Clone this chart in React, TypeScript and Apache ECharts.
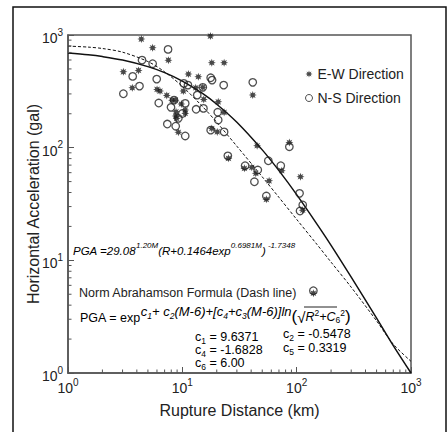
import React, { useEffect, useRef } from "react";
import * as echarts from "echarts";

// ---- data ----
const ewDistance = [4.38, 17.6, 5.5, 7.55, 18.1, 23.2, 3.05, 4.14, 11.3, 13.8, 3.65, 6.01, 6.38, 10.2, 13.1, 15.1, 15.4, 7.31, 8.13, 8.68, 9.8, 8.81, 10.6, 10.6, 8.75, 8.93, 20.6, 23.2, 9.23, 18.1, 20.2, 41.3, 25.3, 45.1, 86.3, 34.9, 40.5, 43.9, 57.4, 74.1, 108, 54.3, 113, 140];
const ewPGA = [920, 978, 770, 598, 567, 567, 471, 485, 450, 426, 340, 329, 318, 318, 340, 343, 268, 291, 264, 264, 244, 208, 216, 201, 191, 182, 255, 206, 137, 148, 138, 293, 80.4, 104, 111, 65.5, 66.9, 59.2, 50.8, 62.4, 55.2, 34.8, 27.9, 5.1];

const nsDistance = [3.05, 3.68, 4.22, 4.44, 5.5, 7.5, 5.97, 6.22, 7.39, 7.96, 8.75, 9.23, 10.0, 10.6, 10.3, 11.2, 10.6, 13.2, 13.5, 15.1, 15.3, 17.7, 18.2, 17.7, 20.4, 20.6, 23.0, 23.2, 25.0, 41.3, 35.4, 42.7, 45.7, 56.5, 72.6, 86.3, 54.3, 106, 113, 107, 140, 8.46];
const nsPGA = [301, 429, 352, 598, 556, 745, 406, 249, 162, 228, 155, 182, 201, 247, 372, 359, 127, 219, 293, 343, 223, 417, 398, 143, 206, 176, 359, 138, 84.6, 380, 69.1, 49.8, 63.3, 76.5, 69.1, 102, 37.2, 39.3, 31.0, 27.4, 5.37, 264];

const curveDistance = [1, 1.5, 2, 3, 5, 7, 10, 15, 20, 30, 50, 70, 100, 150, 200, 300, 500, 700, 1000];
const solidPGA = [692, 667, 643, 599, 524, 463, 390, 303, 243, 168, 95.6, 62.5, 38.3, 21.1, 13.6, 7.1, 3.07, 1.75, 1.0];
const dashedPGA = [797, 781, 759, 704, 581, 471, 350, 232, 168, 103, 55.1, 36.2, 23.1, 13.9, 9.63, 5.77, 2.9, 1.8, 1.27];

const majorTickExponents = [0, 1, 2, 3];
const minorTickValues = [2, 3, 4, 5, 6, 7, 8, 9, 20, 30, 40, 50, 60, 70, 80, 90, 200, 300, 400, 500, 600, 700, 800, 900];

const FONT = "Liberation Sans, Arial, Helvetica, sans-serif";
const INK = "#222";
const AXIS = "#555";
const ASTERISK =
  "path://M20 10 L14.6 11.9 L17.07 17.07 L11.9 14.6 L10 20 L8.1 14.6 L2.93 17.07 L5.4 11.9 L0 10 L5.4 8.1 L2.93 2.93 L8.1 5.4 L10 0 L11.9 5.4 L17.07 2.93 L14.6 8.1 Z";

const tok = (size: number, pad: number, italic = false, lh?: number) => ({
  fontFamily: FONT,
  fontSize: size,
  fontStyle: italic ? "italic" : "normal",
  color: INK,
  verticalAlign: "bottom",
  lineHeight: lh ?? Math.round(size * 1.1),
  padding: [0, 0, pad, 0],
});

const tickLabel = (v: number) => {
  const e = Math.round(Math.log10(v));
  return majorTickExponents.includes(e) ? `{b|10}{s|${e}}` : "";
};
const tickRich = {
  b: { fontFamily: FONT, fontSize: 14, color: INK, verticalAlign: "bottom", lineHeight: 15 },
  s: { fontFamily: FONT, fontSize: 10, color: INK, verticalAlign: "bottom", lineHeight: 11, padding: [0, 0, 8, 0] },
};

const coefLine = (x: number, y: number, sub: string, rest: string) => ({
  type: "text",
  x,
  y,
  style: {
    text: `{n|c}{b|${sub}}{n|${rest}}`,
    verticalAlign: "middle",
    rich: { n: tok(12.5, 2, false, 10), b: tok(8.5, 0, false, 8) },
  },
});

export default function App() {
  const ref = useRef<HTMLDivElement>(null);
  useEffect(() => {
    if (!ref.current) return;
    const chart = echarts.init(ref.current, undefined, { renderer: "svg" });
    const minorX = (params: any, api: any) => {
      const p = api.coord([api.value(0), 1]);
      return { type: "line", shape: { x1: p[0], y1: p[1], x2: p[0], y2: p[1] - 3.5 }, style: { stroke: AXIS, lineWidth: 1 } };
    };
    const minorY = (params: any, api: any) => {
      const p = api.coord([1, api.value(1)]);
      return { type: "line", shape: { x1: p[0], y1: p[1], x2: p[0] + 3.5, y2: p[1] }, style: { stroke: AXIS, lineWidth: 1 } };
    };
    chart.setOption({
      animation: false,
      backgroundColor: "#fff",
      grid: { left: 68, right: 37, top: 35, bottom: 59, show: true, borderColor: AXIS, borderWidth: 1.5, backgroundColor: "transparent" },
      xAxis: {
        type: "log",
        logBase: 10,
        min: 1,
        max: 1000,
        name: "Rupture Distance (km)",
        nameLocation: "middle",
        nameGap: 29,
        nameMoveOverlap: false,
        nameTextStyle: { fontFamily: FONT, fontSize: 16, color: INK },
        axisLine: { lineStyle: { color: AXIS, width: 1.5 } },
        axisTick: { inside: true, length: 6, lineStyle: { color: AXIS, width: 1 } },
        splitLine: { show: false },
        axisLabel: { formatter: tickLabel, rich: tickRich, margin: 7 },
      },
      yAxis: {
        type: "log",
        logBase: 10,
        min: 1,
        max: 1000,
        name: "Horizontal Acceleration (gal)",
        nameLocation: "middle",
        nameGap: 27,
        nameMoveOverlap: false,
        nameTextStyle: { fontFamily: FONT, fontSize: 16, color: INK },
        axisLine: { lineStyle: { color: AXIS, width: 1.5 } },
        axisTick: { inside: true, length: 6, lineStyle: { color: AXIS, width: 1 } },
        splitLine: { show: false },
        axisLabel: { formatter: tickLabel, rich: tickRich, margin: 5, padding: [5, 0, 0, 0] },
      },
      legend: {
        data: [
          { name: "E-W Direction" },
          { name: "N-S Direction", itemStyle: { borderWidth: 1 } },
        ],
        orient: "vertical",
        left: 300,
        top: 62,
        itemWidth: 7,
        itemHeight: 7,
        itemGap: 10,
        textStyle: { fontFamily: FONT, fontSize: 14, color: INK },
      },
      series: [
        {
          name: "Solid",
          type: "line",
          data: curveDistance.map((r, i) => [r, solidPGA[i]]),
          showSymbol: false,
          smooth: 0.3,
          lineStyle: { color: "#111", width: 1.5 },
          silent: true,
          z: 3,
        },
        {
          name: "Dashed",
          type: "line",
          data: curveDistance.map((r, i) => [r, dashedPGA[i]]),
          showSymbol: false,
          smooth: 0.3,
          lineStyle: { color: "#111", width: 1, type: [3, 2] },
          silent: true,
          z: 3,
        },
        {
          name: "E-W Direction",
          type: "scatter",
          symbol: ASTERISK,
          symbolSize: 8,
          itemStyle: { color: "#1a1a1a" },
          data: ewDistance.map((r, i) => [r, ewPGA[i]]),
          z: 4,
        },
        {
          name: "N-S Direction",
          type: "scatter",
          symbol: "circle",
          symbolSize: 7.5,
          itemStyle: { color: "rgba(255,255,255,0)", borderColor: INK, borderWidth: 1.3 },
          data: nsDistance.map((r, i) => [r, nsPGA[i]]),
          z: 5,
        },
        {
          name: "xMinor",
          type: "custom",
          renderItem: minorX,
          data: minorTickValues.map((v) => [v, 1]),
          silent: true,
          z: 6,
        },
        {
          name: "yMinor",
          type: "custom",
          renderItem: minorY,
          data: minorTickValues.map((v) => [1, v]),
          silent: true,
          z: 6,
        },
      ],
      graphic: [
        {
          type: "rect",
          shape: { x: 13, y: 7, width: 433, height: 440 },
          style: { fill: "none", stroke: "#111", lineWidth: 1.5 },
          silent: true,
        },
        {
          type: "text",
          x: 73,
          y: 250,
          style: {
            text: "{i|PGA =29.08}{s|1.20M}{i|(R+0.1464exp}{s|0.6981M}{i|)}{s| -1.7348}",
            verticalAlign: "middle",
            rich: { i: tok(11.5, 0, true, 13), s: tok(8, 7, true, 9) },
          },
        },
        {
          type: "text",
          x: 79,
          y: 293,
          style: {
            text: "Norm Abrahamson Formula (Dash line)",
            verticalAlign: "middle",
            fontFamily: FONT,
            fontSize: 12.5,
            fill: INK,
          },
        },
        {
          type: "text",
          x: 80,
          y: 316,
          style: {
            text:
              "{m|PGA = exp}{e|c}{es|1}{e|+ c}{es|2}{e|(M-6)+[c}{es|4}{e|+c}{es|3}{e|(M-6)]ln}{p|(}{q|√}{r|R}{rs|2}{r|+C}{rb|6}{rs|2}{p|)}",
            verticalAlign: "middle",
            rich: {
              m: tok(12.5, 0, false, 13),
              e: tok(13, 7, true, 13),
              es: tok(8.5, 4, true, 9),
              p: tok(17, 0, false, 17),
              q: tok(15, 0, false, 15),
              r: tok(12.5, 1, true, 13),
              rs: tok(8.5, 7, false, 9),
              rb: tok(8.5, 0, false, 9),
            },
          },
        },
        {
          type: "line",
          shape: { x1: 304, y1: 307, x2: 337, y2: 307 },
          style: { stroke: INK, lineWidth: 1 },
        },
        coefLine(195, 340, "1", " = 9.6371"),
        coefLine(195, 353, "4", " = -1.6828"),
        coefLine(195, 366, "6", " = 6.00"),
        coefLine(283, 337, "2", " = -0.5478"),
        coefLine(283, 351, "5", " = 0.3319"),
      ],
    });
    return () => chart.dispose();
  }, []);
  return <div ref={ref} style={{ position: "fixed", left: 0, top: 0, width: 448, height: 432 }} />;
}
